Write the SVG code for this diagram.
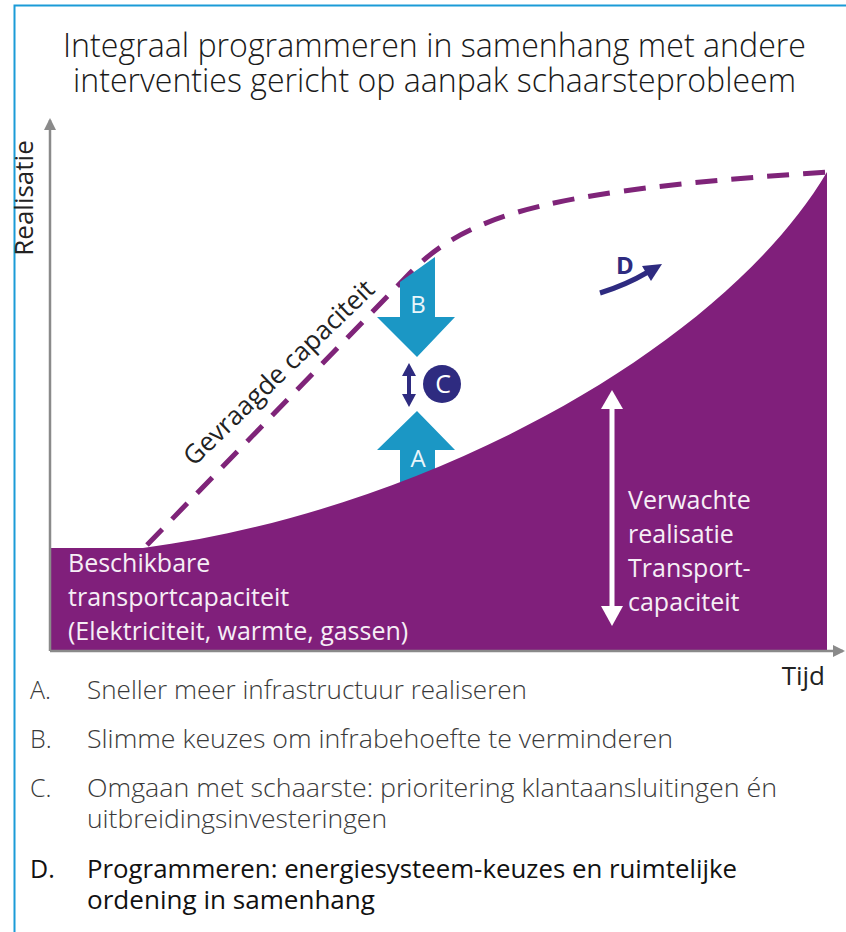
<svg xmlns="http://www.w3.org/2000/svg" width="846" height="932" viewBox="0 0 846 932">
  <style>
    .title { font-family: "Open Sans", "Liberation Sans", sans-serif; font-weight: 300; font-size: 33px; fill: #1a1a1a; }
    .lbl { font-family: "Open Sans", "Liberation Sans", sans-serif; font-size: 25px; fill: #f6eef6; }
    .axis { font-family: "Open Sans", "Liberation Sans", sans-serif; font-size: 26px; fill: #222; }
    .leg { font-family: "Open Sans", "Liberation Sans", sans-serif; font-weight: 300; font-size: 25px; fill: #3a3a3a; }
    .legd { font-family: "Open Sans", "Liberation Sans", sans-serif; font-weight: 400; font-size: 25px; fill: #111; }
    .blue { fill: #1b97c5; }
    .navy { fill: #2e2b80; }
    .wl { font-family: "Open Sans", "Liberation Sans", sans-serif; font-size: 24px; fill: #eaf6fb; text-anchor: middle; }
  </style>
  <defs>
    <marker id="axhead" markerWidth="12" markerHeight="12" refX="10" refY="6" orient="auto" markerUnits="userSpaceOnUse">
      <path d="M0,0 L12,6 L0,12 Z" fill="#8a8a8a"/>
    </marker>
  </defs>
  <rect width="846" height="932" fill="#ffffff"/>

  <g id="frame">
    <path d="M846,5.5 H14.5 V932" fill="none" stroke="#1b9bd7" stroke-width="2"/>
  </g>

  <g id="title">
    <text class="title" x="63" y="57" textLength="743" lengthAdjust="spacingAndGlyphs">Integraal programmeren in samenhang met andere</text>
    <text class="title" x="73" y="92" textLength="723" lengthAdjust="spacingAndGlyphs">interventies gericht op aanpak schaarsteprobleem</text>
  </g>

  <g id="arrow-A">
    <polygon class="blue" points="400,505 400,450 377,450 417,411 455,450 435,450 435,505"/>
    <text class="wl" x="418" y="467">A</text>
  </g>

  <g id="area-beschikbaar">
    <path d="M50,548 H143 C420,512 720,352 827,172 V651 H50 Z" fill="#801f7b"/>
    <text class="lbl" x="68" y="572">Beschikbare</text>
    <text class="lbl" x="68" y="606">transportcapaciteit</text>
    <text class="lbl" x="68" y="640">(Elektriciteit, warmte, gassen)</text>
  </g>

  <g id="axes">
    <line x1="50" y1="651" x2="50" y2="120" stroke="#8a8a8a" stroke-width="2.5" marker-end="url(#axhead)"/>
    <line x1="50" y1="651" x2="843" y2="651" stroke="#8a8a8a" stroke-width="2.5" marker-end="url(#axhead)"/>
    <text class="axis" transform="translate(33,198) rotate(-90)" text-anchor="middle" font-size="27">Realisatie</text>
    <text class="axis" x="825" y="685" text-anchor="end">Tijd</text>
  </g>

  <g id="connectors">
    <path id="gevraagd" d="M147,545 L410,273 C470,211 560,190 827,172" fill="none" stroke="#7f2479" stroke-width="5" stroke-dasharray="22,14"/>
  </g>

  <g id="label-gevraagd">
    <text class="axis" transform="translate(285,379) rotate(-44)" text-anchor="middle" font-size="27">Gevraagde capaciteit</text>
  </g>

  <g id="arrow-B">
    <polygon class="blue" points="400,282 435,257 435,317 455,317 417,357 377,317 400,317"/>
    <text class="wl" x="418" y="313">B</text>
  </g>

  <g id="arrow-C">
    <rect x="407" y="372" width="4" height="26" class="navy"/>
    <polygon class="navy" points="409,363 416,376 402,376"/>
    <polygon class="navy" points="409,407 416,394 402,394"/>
    <circle cx="442" cy="384" r="19" class="navy"/>
    <text x="443" y="393" text-anchor="middle" font-family="Open Sans, Liberation Sans, sans-serif" font-size="25" fill="#ffffff">C</text>
  </g>

  <g id="arrow-D">
    <path d="M600,293 Q626,285 648,272" fill="none" stroke="#2e2b80" stroke-width="5"/>
    <polygon class="navy" points="662,264 651,281 642,266"/>
    <text x="625" y="274" text-anchor="middle" font-family="Open Sans, Liberation Sans, sans-serif" font-weight="700" font-size="24" fill="#2e2b80">D</text>
  </g>

  <g id="verwachte">
    <rect x="609.5" y="405" width="5" height="205" fill="#ffffff"/>
    <polygon points="612,390 623,409 601,409" fill="#ffffff"/>
    <polygon points="612,626 623,606 601,606" fill="#ffffff"/>
    <text class="lbl" x="628" y="509">Verwachte</text>
    <text class="lbl" x="628" y="543">realisatie</text>
    <text class="lbl" x="628" y="577">Transport-</text>
    <text class="lbl" x="628" y="611">capaciteit</text>
  </g>

  <g id="legend">
    <text class="leg" x="30" y="699">A.</text>
    <text class="leg" x="87" y="699" textLength="440" lengthAdjust="spacingAndGlyphs">Sneller meer infrastructuur realiseren</text>
    <text class="leg" x="30" y="748">B.</text>
    <text class="leg" x="87" y="748" textLength="586" lengthAdjust="spacingAndGlyphs">Slimme keuzes om infrabehoefte te verminderen</text>
    <text class="leg" x="30" y="797">C.</text>
    <text class="leg" x="87" y="797" textLength="690" lengthAdjust="spacingAndGlyphs">Omgaan met schaarste: prioritering klantaansluitingen én</text>
    <text class="leg" x="87" y="828" textLength="300" lengthAdjust="spacingAndGlyphs">uitbreidingsinvesteringen</text>
    <text class="legd" x="30" y="878">D.</text>
    <text class="legd" x="87" y="878" textLength="650" lengthAdjust="spacingAndGlyphs">Programmeren: energiesysteem-keuzes en ruimtelijke</text>
    <text class="legd" x="87" y="909" textLength="288" lengthAdjust="spacingAndGlyphs">ordening in samenhang</text>
  </g>
</svg>
